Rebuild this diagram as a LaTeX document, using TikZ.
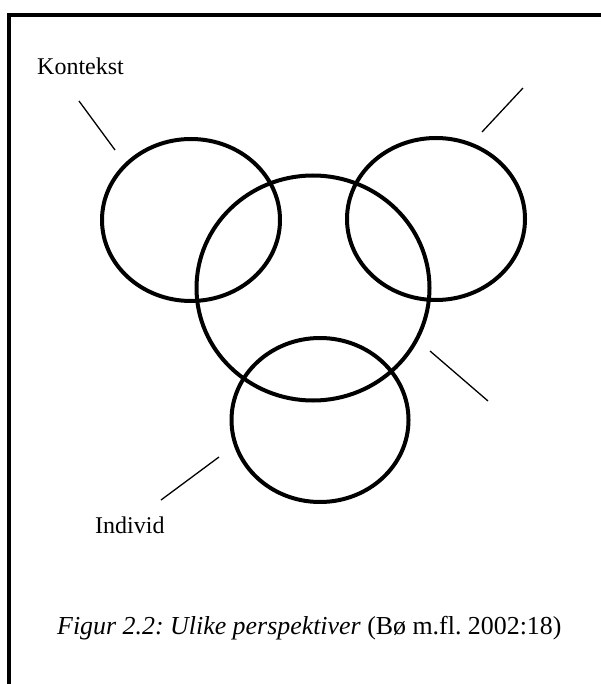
\documentclass[tikz,border=0pt]{standalone}
\usepackage{fontspec}
\setmainfont{Liberation Serif}
\usetikzlibrary{shapes.geometric}
\frenchspacing
\begin{document}
\begin{tikzpicture}[x=1pt,y=-1pt,
  ring/.style={draw=black, ellipse, line width=4pt, inner sep=0pt},
  pointer/.style={draw=black, line width=1.3pt},
  frameline/.style={draw=black, line width=3.5pt},
  lbl/.style={font=\fontsize{24}{28}\selectfont, inner sep=0pt, anchor=base west},
  captiontext/.style={font=\fontsize{25.9}{30}\selectfont, inner sep=0pt, anchor=base west}]
\useasboundingbox (0,0) rectangle (601,684);
% frame
\coordinate (fr1) at (601,15);
\coordinate (fr2) at (9,15);
\coordinate (fr3) at (9,684);
\draw[frameline] (fr1) -- (fr2) -- (fr3);
% circles
\node[ring, minimum width=178pt, minimum height=162pt] (left) at (191,220) {};
\node[ring, minimum width=178pt, minimum height=162pt] (right) at (436,219) {};
\node[ring, minimum width=233pt, minimum height=225pt] (mid) at (313,288) {};
\node[ring, minimum width=177pt, minimum height=164pt] (bottom) at (320,420) {};
% labels
\node[lbl] (kontekst) at (37,75) {Kontekst};
\node[lbl] (individ) at (95,533) {Individ};
\node[captiontext] (caption) at (57,634) {\textit{Figur 2.2: Ulike perspektiver} (Bø m.fl. 2002:18)};
% pointer lines
\coordinate (p1a) at (79,101);
\coordinate (p1b) at (115,150);
\coordinate (p2a) at (523,88);
\coordinate (p2b) at (482,132);
\coordinate (p3a) at (430,351);
\coordinate (p3b) at (488,401);
\coordinate (p4a) at (219,457);
\coordinate (p4b) at (161,500);
\draw[pointer] (p1a) -- (p1b);
\draw[pointer] (p2a) -- (p2b);
\draw[pointer] (p3a) -- (p3b);
\draw[pointer] (p4a) -- (p4b);
\end{tikzpicture}
\end{document}
